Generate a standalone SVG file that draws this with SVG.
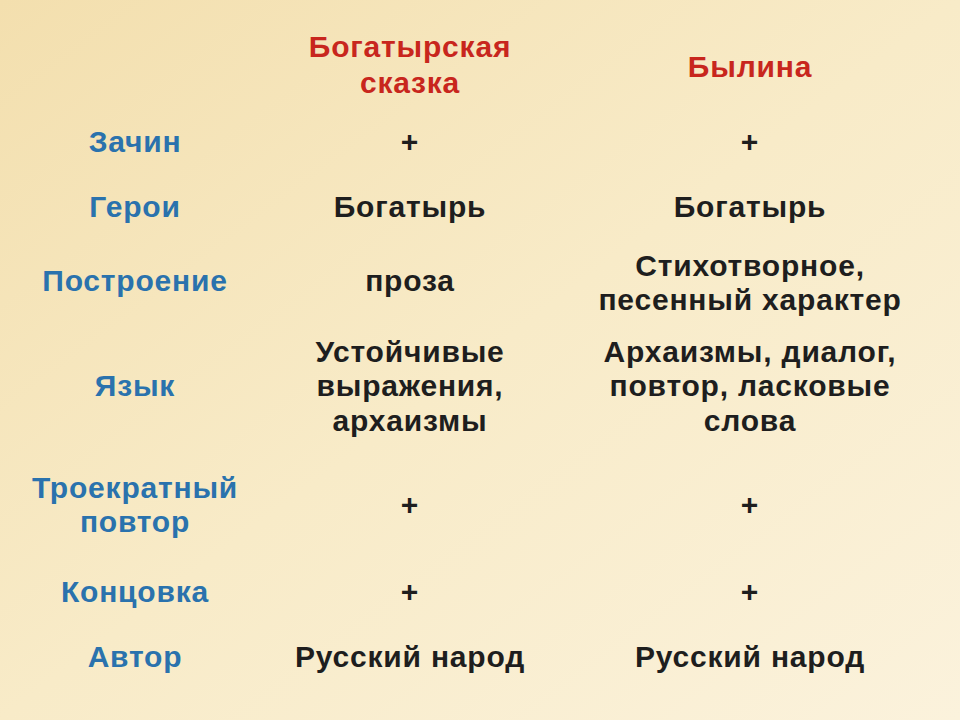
<svg xmlns="http://www.w3.org/2000/svg" width="960" height="720" viewBox="0 0 960 720">
<defs>
<linearGradient id="bg" x1="0" y1="0" x2="1" y2="1">
<stop offset="0" stop-color="#f3dfae"/>
<stop offset="0.5" stop-color="#f8ebc8"/>
<stop offset="1" stop-color="#fbf2dc"/>
</linearGradient>
<style>
text{font-family:"Liberation Sans",Arial,sans-serif;font-weight:bold;font-size:30px;letter-spacing:0.8px;text-anchor:middle}
.h{fill:#c8261d}.l{fill:#2a72ad}.c{fill:#1e1e1e}
</style>
</defs>
<rect width="960" height="720" fill="url(#bg)"/>
<g id="header">
<text class="h" x="410" y="57">Богатырская</text>
<text class="h" x="410" y="93">сказка</text>
<text class="h" x="750" y="77">Былина</text>
</g>
<g id="row-zachin">
<text class="l" x="135" y="152">Зачин</text>
<text class="c" x="410" y="152">+</text>
<text class="c" x="750" y="152">+</text>
</g>
<g id="row-geroi">
<text class="l" x="135" y="217">Герои</text>
<text class="c" x="410" y="217">Богатырь</text>
<text class="c" x="750" y="217">Богатырь</text>
</g>
<g id="row-postroenie">
<text class="l" x="135" y="291">Построение</text>
<text class="c" x="410" y="291">проза</text>
<text class="c" x="750" y="276">Стихотворное,</text>
<text class="c" x="750" y="310">песенный характер</text>
</g>
<g id="row-yazyk">
<text class="l" x="135" y="396">Язык</text>
<text class="c" x="410" y="362">Устойчивые</text>
<text class="c" x="410" y="396">выражения,</text>
<text class="c" x="410" y="431">архаизмы</text>
<text class="c" x="750" y="362">Архаизмы, диалог,</text>
<text class="c" x="750" y="396">повтор, ласковые</text>
<text class="c" x="750" y="431">слова</text>
</g>
<g id="row-povtor">
<text class="l" x="135" y="498">Троекратный</text>
<text class="l" x="135" y="532">повтор</text>
<text class="c" x="410" y="515">+</text>
<text class="c" x="750" y="515">+</text>
</g>
<g id="row-koncovka">
<text class="l" x="135" y="602">Концовка</text>
<text class="c" x="410" y="602">+</text>
<text class="c" x="750" y="602">+</text>
</g>
<g id="row-avtor">
<text class="l" x="135" y="667">Автор</text>
<text class="c" x="410" y="667">Русский народ</text>
<text class="c" x="750" y="667">Русский народ</text>
</g>
<g id="connectors"/>
</svg>
